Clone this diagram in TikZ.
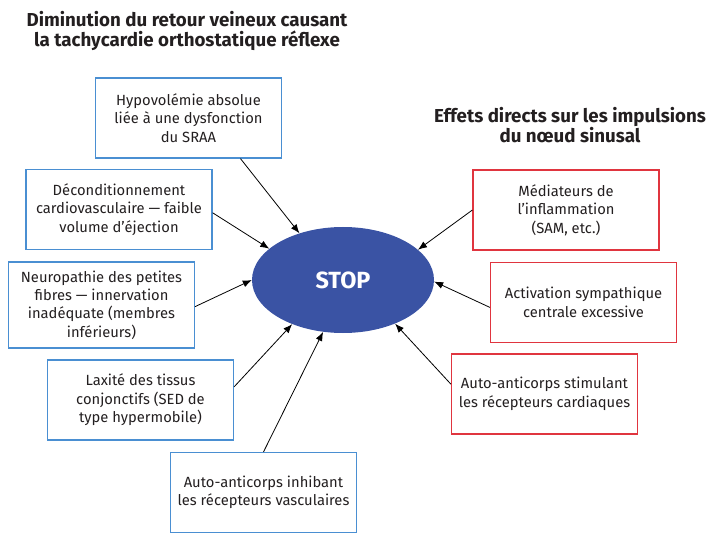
\documentclass[tikz,border=0pt]{standalone}
\usepackage{fontspec}
\setmainfont{Fira Sans}
\usetikzlibrary{arrows.meta,shapes.geometric}
\definecolor{causeblue}{HTML}{4A8FD2}
\definecolor{effectred}{HTML}{E0353F}
\definecolor{stopblue}{HTML}{3A53A4}
\definecolor{inkgrey}{HTML}{231F20}

\begin{document}
\begin{tikzpicture}[x=1bp,y=-1bp,>={Latex[length=9bp,width=7bp]},
  causebox/.style={draw=causeblue,line width=1.2bp,minimum width=186bp,minimum height=80bp,
    align=center,text=inkgrey,font=\fontsize{14.8}{18.5}\selectfont,inner sep=2bp},
  effectbox/.style={causebox,draw=effectred},
  heading/.style={align=center,text=inkgrey,font=\fontsize{18.8}{20.5}\selectfont\bfseries},
  link/.style={->,line width=0.8bp,black}]
  \useasboundingbox (0,0) rectangle (716,542);
  % headings
  \node[heading] (leftTitle) at (187,31) {Diminution du retour veineux causant\\la tachycardie orthostatique réflexe};
  \node[heading] (rightTitle) at (570,125) {Effets directs sur les impulsions\\du nœud sinusal};
  % centre
  \node[ellipse,fill=stopblue,minimum width=182bp,minimum height=106bp,inner sep=0,
    text=white,font=\fontsize{23.5}{26}\selectfont\bfseries] (stop) at (343,280) {STOP};
  % left: venous return
  \node[causebox] (hypo) at (188.5,118) {Hypovolémie absolue\\liée à une dysfonction\\du SRAA};
  \node[causebox] (decond) at (119,209.5) {Déconditionnement\\cardiovasculaire — faible\\volume d’éjection};
  \node[causebox,minimum height=86bp] (neuro) at (101.5,305) {Neuropathie des petites\\fibres — innervation\\inadéquate (membres\\inférieurs)};
  \node[causebox] (laxity) at (140.5,400) {Laxité des tissus\\conjonctifs (SED de\\type hypermobile)};
  \node[causebox] (inhib) at (263.5,492.5) {Auto-anticorps inhibant\\les récepteurs vasculaires};
  % right: sinus node
  \node[effectbox] (mediat) at (566,210) {Médiateurs de\\l’inflammation\\(SAM, etc.)};
  \node[effectbox] (sympa) at (583.5,302.5) {Activation sympathique\\centrale excessive};
  \node[effectbox] (stim) at (544.5,394) {Auto-anticorps stimulant\\les récepteurs cardiaques};
  % arrows
  \draw[link] (hypo.-38) -- (stop.133);
  \draw[link] (decond.-2) -- (stop.157);
  \draw[link] (neuro.-1) -- (stop.180);
  \draw[link] (laxity.8) -- (stop.221);
  \draw[link] (inhib.north) -- (stop.249);
  \draw[link] (mediat.west) -- (stop.22);
  \draw[link] (sympa.183) -- (stop.-1);
  \draw[link] (stim.174) -- (stop.-40);
\end{tikzpicture}
\end{document}
